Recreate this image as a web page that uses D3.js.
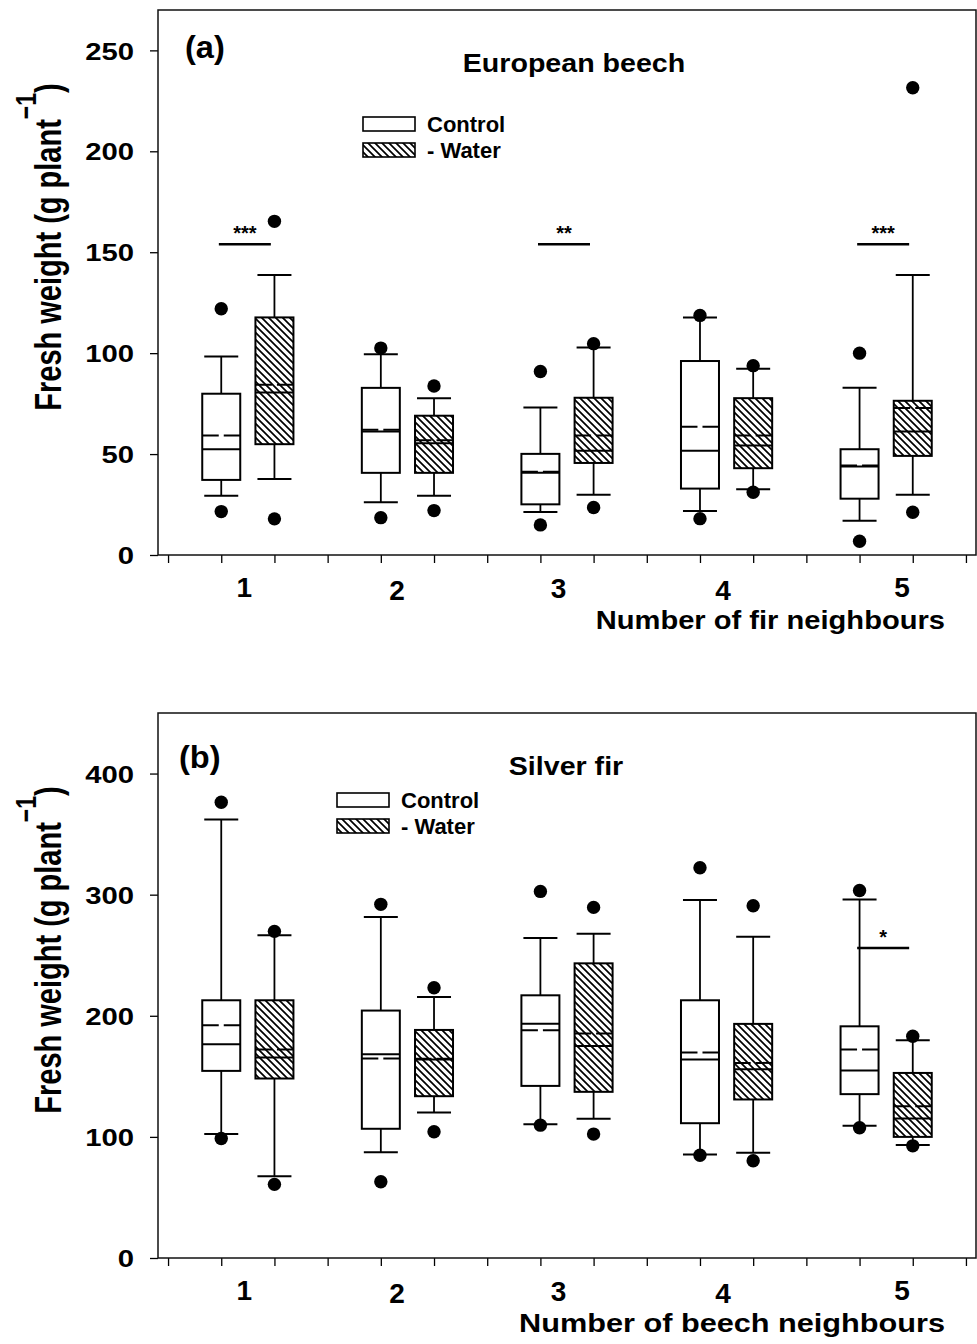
<!DOCTYPE html>
<html>
<head>
<meta charset="utf-8">
<script src="https://cdn.jsdelivr.net/npm/d3@7"></script>
<style>
  body { margin: 0; background: #fff; }
  text { font-family: "Liberation Sans", Arial, sans-serif; font-weight: bold; fill: #000; }
</style>
</head>
<body>
<svg id="chart"></svg>
<script>
var svg_width = 977
var svg_height = 1344

// DATA
// each row: [outlier low, whisker low, Q1, median, Q3, whisker high, outlier high, mean]
var groups = [1, 2, 3, 4, 5]
var beechTicks = [0, 50, 100, 150, 200, 250]
var firTicks = [0, 100, 200, 300, 400]

var beechControl = [
    [21.5, 29.3, 37.2, 52.4, 79.9, 98.4, 122.0, 59.2],
    [18.5, 26.1, 40.7, 61.2, 82.8, 99.4, 102.5, 62.0],
    [14.9, 21.3, 25.1, 40.8, 50.1, 73.1, 90.9, 41.3],
    [18.0, 21.8, 32.9, 51.6, 96.1, 117.6, 118.7, 63.5],
    [6.8, 17.0, 27.9, 43.8, 52.4, 82.8, 100.0, 44.3]
]
var beechWater = [
    [17.9, 37.7, 54.9, 80.5, 117.7, 138.7, 165.3, 84.3],
    [22.0, 29.4, 40.7, 55.4, 69.0, 77.6, 83.7, 56.8],
    [23.5, 29.9, 45.6, 51.6, 77.9, 102.8, 104.7, 59.2],
    [31.1, 32.6, 43.0, 54.2, 77.7, 92.3, 93.8, 59.2],
    [21.2, 29.9, 49.1, 61.2, 76.4, 138.7, 231.5, 72.8]
]
var firControl = [
    [98.7, 102.3, 154.5, 176.5, 212.8, 362.1, 376.3, 192.2],
    [62.9, 87.4, 106.7, 168.2, 204.3, 281.5, 292.0, 164.7],
    [109.7, 110.5, 142.1, 193.5, 216.9, 264.2, 302.7, 188.0],
    [84.9, 85.5, 111.3, 163.9, 212.8, 295.5, 322.2, 169.6],
    [107.5, 109.1, 135.3, 154.8, 191.3, 296.1, 303.5, 172.1]
]
var firWater = [
    [60.8, 67.6, 148.2, 165.5, 212.8, 266.4, 269.7, 172.1],
    [104.2, 120.1, 133.6, 163.9, 188.3, 215.5, 223.2, 164.5],
    [102.3, 114.9, 137.2, 175.1, 243.3, 267.8, 289.5, 185.3],
    [80.3, 86.9, 130.9, 155.9, 193.3, 265.3, 290.9, 161.1],
    [92.6, 93.2, 100.0, 115.2, 152.8, 179.8, 183.1, 125.4]
]
// [group, label, height]
var beechSig = [[1, "***", 154], [3, "**", 154], [5, "***", 154]]
var firSig = [[5, "*", 256]]

// layout of the two panels
var panels = [
    { letter: "(a)", title: "European beech", xTitle: "Number of fir neighbours", xTitleScale: 1.12,
      control: beechControl, water: beechWater, ticks: beechTicks, yMax: 270, sig: beechSig,
      top: 10, bottom: 555, titleX: 574, titleY: 72, letterX: 185, letterY: 58,
      legendX: 363, legendY: 117, yTitleY: 247 },
    { letter: "(b)", title: "Silver fir", xTitle: "Number of beech neighbours", xTitleScale: 1.18,
      control: firControl, water: firWater, ticks: firTicks, yMax: 450, sig: firSig,
      top: 713, bottom: 1258, titleX: 566, titleY: 775, letterX: 179, letterY: 768,
      legendX: 337, legendY: 793, yTitleY: 950 }
]

var labelNudge = [[-3.5, 0], [-10.5, 3], [-8.5, 1], [-3.5, 3], [16, 0]]
var boxW = 38, capW = 34, dotR = 6.7

var svg = d3.select("#chart")
    .attr("width", svg_width)
    .attr("height", svg_height)

svg.append("rect").attr("width", svg_width).attr("height", svg_height).attr("fill", "#fff")

// hatch pattern
var pat = svg.append("defs").append("pattern")
    .attr("id", "hatch")
    .attr("patternUnits", "userSpaceOnUse")
    .attr("width", 7).attr("height", 7)
pat.append("rect").attr("width", 7).attr("height", 7).attr("fill", "#fff")
pat.append("path")
    .attr("d", "M-1,-1L8,8M6,-1L8,1M-1,6L1,8")
    .attr("stroke", "#000").attr("stroke-width", 1.7)

var xScale = d3.scaleLinear()
               .domain([0.437, 5.563])
               .range([158, 976])

var xTicks = []
groups.forEach(function(g) { xTicks.push(g - 0.5, g - 1 / 6, g + 1 / 6) })
xTicks.push(5.5)

function stretched(parent, x, y, str, size, sx, anchor) {
    return parent.append("text")
        .attr("transform", "translate(" + x + "," + y + ") scale(" + sx + ",1)")
        .attr("text-anchor", anchor)
        .attr("font-size", size)
        .text(str)
}

function drawBoxes(g, rows, offset, fill, yScale) {
    rows.forEach(function(r, i) {
        var cx = xScale(groups[i] + offset)
        var b = g.append("g")
        // whiskers
        b.append("line").attr("x1", cx).attr("x2", cx)
            .attr("y1", yScale(r[1])).attr("y2", yScale(r[2]))
            .attr("stroke", "#000").attr("stroke-width", 1.8)
        b.append("line").attr("x1", cx).attr("x2", cx)
            .attr("y1", yScale(r[4])).attr("y2", yScale(r[5]))
            .attr("stroke", "#000").attr("stroke-width", 1.8)
        ;[r[1], r[5]].forEach(function(v) {
            b.append("line")
                .attr("x1", cx - capW / 2).attr("x2", cx + capW / 2)
                .attr("y1", yScale(v)).attr("y2", yScale(v))
                .attr("stroke", "#000").attr("stroke-width", 2)
        })
        // box
        b.append("rect")
            .attr("x", cx - boxW / 2).attr("width", boxW)
            .attr("y", yScale(r[4])).attr("height", yScale(r[2]) - yScale(r[4]))
            .attr("fill", fill).attr("stroke", "#000").attr("stroke-width", 2)
        // median
        b.append("line")
            .attr("x1", cx - boxW / 2).attr("x2", cx + boxW / 2)
            .attr("y1", yScale(r[3])).attr("y2", yScale(r[3]))
            .attr("stroke", "#000").attr("stroke-width", 2)
        // mean (dashed)
        b.append("line")
            .attr("x1", cx - boxW / 2).attr("x2", cx + boxW / 2)
            .attr("y1", yScale(r[7])).attr("y2", yScale(r[7]))
            .attr("stroke", "#000").attr("stroke-width", 2)
            .attr("stroke-dasharray", ((boxW - 5) / 2) + ",5")
        // outliers
        ;[r[0], r[6]].forEach(function(v) {
            b.append("circle")
                .attr("cx", cx).attr("cy", yScale(v)).attr("r", dotR)
                .attr("fill", "#000")
        })
    })
}

panels.forEach(function(p) {
    var yScale = d3.scaleLinear()
                   .domain([0, p.yMax])
                   .range([p.bottom, p.top])
    var g = svg.append("g")

    // axes
    var yAxis = d3.axisLeft(yScale).tickValues(p.ticks).tickSize(8).tickSizeOuter(0)
    g.append("g")
        .attr("transform", "translate(158,0)")
        .call(yAxis)
        .call(function(a) {
            a.select(".domain").remove()
            a.selectAll("line").attr("stroke", "#000").attr("stroke-width", 1.3)
            a.selectAll("text")
                .attr("x", null).attr("dy", "0.36em")
                .attr("font-size", 24)
                .attr("font-family", "Liberation Sans, Arial, sans-serif")
                .attr("transform", "translate(-24,0) scale(1.22,1)")
        })

    var xAxis = d3.axisBottom(xScale).tickValues(xTicks).tickSize(8).tickSizeOuter(0).tickFormat("")
    g.append("g")
        .attr("transform", "translate(0," + p.bottom + ")")
        .call(xAxis)
        .call(function(a) {
            a.select(".domain").remove()
            a.selectAll("line").attr("stroke", "#000").attr("stroke-width", 1.3)
        })

    // frame
    g.append("rect")
        .attr("x", 158).attr("y", p.top)
        .attr("width", 818).attr("height", p.bottom - p.top)
        .attr("fill", "none").attr("stroke", "#111").attr("stroke-width", 1.5)

    // boxes
    drawBoxes(g, p.control, -1 / 6, "#fff", yScale)
    drawBoxes(g, p.water, 1 / 6, "url(#hatch)", yScale)

    // significance bars
    p.sig.forEach(function(s) {
        var cx = xScale(s[0]) - 3
        g.append("line")
            .attr("x1", cx - 26).attr("x2", cx + 26)
            .attr("y1", yScale(s[2])).attr("y2", yScale(s[2]))
            .attr("stroke", "#000").attr("stroke-width", 2.5)
        g.append("text")
            .attr("x", cx).attr("y", yScale(s[2]) - 4)
            .attr("text-anchor", "middle")
            .attr("font-size", 20)
            .text(s[1])
    })

    // group labels
    groups.forEach(function(grp, i) {
        g.append("text")
            .attr("x", xScale(grp) + labelNudge[i][0])
            .attr("y", p.bottom + 42 + labelNudge[i][1])
            .attr("text-anchor", "middle")
            .attr("font-size", 28)
            .text(grp)
    })

    // titles
    stretched(g, 945, p.bottom + 74, p.xTitle, 26, p.xTitleScale, "end")
    stretched(g, p.titleX, p.titleY, p.title, 26, 1.1, "middle")
    stretched(g, p.letterX, p.letterY, p.letter, 31, 1.05, "start")

    // y title
    var yt = g.append("text")
        .attr("transform", "translate(61," + p.yTitleY + ") rotate(-90) scale(1,1.3)")
        .attr("text-anchor", "middle")
        .attr("font-size", 29)
    yt.append("tspan").text("Fresh weight (g plant")
    yt.append("tspan").attr("dy", -19).attr("font-size", 23).text("\u22121")
    yt.append("tspan").attr("dy", 19).text(")")

    // legend
    var lg = g.append("g").attr("transform", "translate(" + p.legendX + "," + p.legendY + ")")
    ;[["#fff", "Control"], ["url(#hatch)", "- Water"]].forEach(function(item, i) {
        lg.append("rect")
            .attr("x", 0).attr("y", i * 26)
            .attr("width", 52).attr("height", 14)
            .attr("fill", item[0]).attr("stroke", "#000").attr("stroke-width", 1.6)
        lg.append("text")
            .attr("x", 64).attr("y", i * 26 + 15)
            .attr("font-size", 22)
            .text(item[1])
    })
})
</script>
</body>
</html>
